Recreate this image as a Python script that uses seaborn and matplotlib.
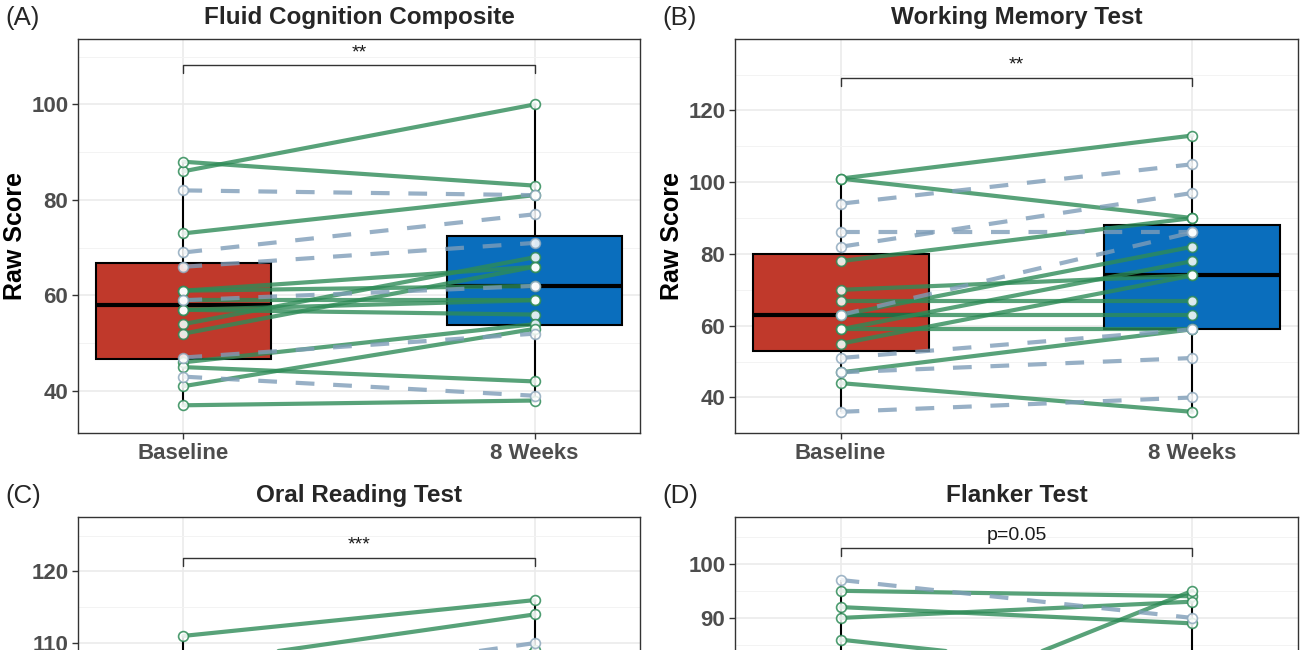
import numpy as np
import pandas as pd
import seaborn as sns
import matplotlib.pyplot as plt

times = ["Baseline", "8 Weeks"]

# (A) Fluid Cognition Composite: one entry per participant, G = solid green, D = dashed
fluid_base = [86, 88, 73, 61, 61, 59, 57, 57, 54, 52, 46, 45, 41, 37, 82, 69, 66, 59, 47, 43]
fluid_wk8 = [100, 83, 81, 66, 62, 59, 59, 56, 68, 66, 54, 42, 53, 38, 81, 77, 71, 62, 52, 39]
fluid_grp = ["G"] * 14 + ["D"] * 6

# (B) Working Memory Test
wm_base = [101, 101, 78, 70, 67, 63, 63, 59, 59, 55, 47, 44, 94, 86, 82, 63, 51, 47, 36]
wm_wk8 = [113, 90, 90, 74, 67, 63, 82, 59, 78, 74, 59, 36, 105, 86, 97, 86, 59, 51, 40]
wm_grp = ["G"] * 12 + ["D"] * 7

# (C) Oral Reading Test (only the top of this panel is in the picture)
read_base = [111, 107, 100, 98, 95, 92, 90, 88, 85, 82, 103, 97, 93, 89, 84]
read_wk8 = [116, 114, 109, 104, 101, 99, 96, 95, 93, 88, 110, 102, 97, 94, 90]
read_grp = ["G"] * 10 + ["D"] * 5

# (D) Flanker Test (only the top of this panel is in the picture)
flank_base = [95, 92, 90, 86, 69, 80, 76, 72, 65, 58, 50, 74, 68, 55, 97, 78, 70, 62, 45, 60]
flank_wk8 = [94, 89, 93, 79, 95, 78, 80, 78, 74, 70, 62, 80, 77, 66, 90, 80, 76, 71, 55, 69]
flank_grp = ["G"] * 14 + ["D"] * 6

titles = ["Fluid Cognition Composite", "Working Memory Test", "Oral Reading Test", "Flanker Test"]
tags = ["(A)", "(B)", "(C)", "(D)"]
sig_labels = ["**", "**", "***", "p=0.05"]
bracket_y = [108.2, 129.1, 121.9, 102.9]
ylims = [(31.2, 113.7), (30.1, 139.9), (72.6, 127.6), (36.0, 108.6)]
yticks = [[40, 60, 80, 100], [40, 60, 80, 100, 120], [80, 90, 100, 110, 120], [40, 50, 60, 70, 80, 90, 100]]
yminor = [[50, 70, 90, 110], [50, 70, 90, 110, 130], [85, 95, 105, 115, 125], [45, 55, 65, 75, 85, 95, 105]]

box_cols = {"Baseline": "#C0392B", "8 Weeks": "#0A6EBD"}
line_cols = {"G": "#2E8B57", "D": "#7E9DB8"}
point_edges = {"G": "#2E8B57", "D": "#8FA9BE"}

sns.set_theme(style="white")
plt.rcParams["font.family"] = ["Liberation Sans", "DejaVu Sans"]

W, H = 1300, 650
fig = plt.figure(figsize=(13, 6.5), dpi=100)

# axes boxes in pixels: left, top, width, height (bottom row runs off the canvas)
boxes = [(78, 39, 562, 394), (735, 39, 563, 394), (78, 517, 562, 394), (735, 517, 563, 394)]
data = [(fluid_base, fluid_wk8, fluid_grp), (wm_base, wm_wk8, wm_grp),
        (read_base, read_wk8, read_grp), (flank_base, flank_wk8, flank_grp)]

for i in range(4):
    l, t, w, h = boxes[i]
    ax = fig.add_axes([l / W, (H - t - h) / H, w / W, h / H])
    base, wk8, grp = data[i]
    n = len(base)
    df = pd.DataFrame({
        "id": list(range(n)) * 2,
        "time": [times[0]] * n + [times[1]] * n,
        "pos": [0] * n + [1] * n,
        "score": base + wk8,
        "grp": grp * 2,
    })

    sns.boxplot(data=df, x="time", y="score", hue="time", order=times, palette=box_cols,
                width=0.5, showcaps=False, fliersize=0, saturation=1, linecolor="black",
                linewidth=1.5, medianprops=dict(linewidth=3), legend=False, ax=ax)

    sns.lineplot(data=df, x="pos", y="score", units="id", estimator=None, hue="grp", style="grp",
                 palette=line_cols, dashes={"G": "", "D": (4.5, 4.5)}, linewidth=3.0, alpha=0.8,
                 legend=False, ax=ax, zorder=3)

    for g in ["G", "D"]:
        sub = df[df["grp"] == g]
        sns.scatterplot(data=sub, x="pos", y="score", color="white", edgecolor=point_edges[g],
                        s=50, linewidth=1.2, alpha=0.85, legend=False, ax=ax, zorder=4)

    # significance bracket
    b = bracket_y[i]
    drop = (ylims[i][1] - ylims[i][0]) * 0.02
    ax.plot([0, 0, 1, 1], [b - drop, b, b, b - drop], color="#333333", lw=1.0, zorder=5)
    ax.text(0.5, b + drop * 0.5, sig_labels[i], ha="center", va="bottom", fontsize=14, color="#1a1a1a")

    ax.set_xlim(-0.3, 1.3)
    ax.set_ylim(*ylims[i])
    ax.set_xticks([0, 1])
    ax.set_xticklabels(times)
    ax.set_yticks(yticks[i])
    ax.set_yticks(yminor[i], minor=True)
    ax.set_xlabel("")
    ax.set_ylabel("Raw Score", fontsize=18, fontweight="bold", color="black", labelpad=3)
    ax.set_title(titles[i], fontsize=17.5, fontweight="bold", pad=11)

    ax.grid(True, which="major", color="#EBEBEB", lw=1.2)
    ax.grid(True, which="minor", axis="y", color="#F3F3F3", lw=0.7)
    ax.set_axisbelow(True)
    ax.tick_params(which="major", length=4, width=1, color="#333333", labelcolor="#4D4D4D",
                   labelsize=16, pad=3, left=True, bottom=True)
    ax.tick_params(which="minor", length=0)
    if i >= 2:
        # the x labels of the lower row fall below the cropped canvas
        ax.tick_params(axis="x", labelbottom=False)
    for lab in ax.get_xticklabels() + ax.get_yticklabels():
        lab.set_fontweight("bold")
    for sp in ax.spines.values():
        sp.set_visible(True)
        sp.set_color("#333333")
        sp.set_linewidth(1.0)

    fig.text((l - 73) / W, 1 - (t - 21) / H, tags[i], fontsize=18.5, va="center", ha="left")

fig.savefig("out.png", dpi=100)
